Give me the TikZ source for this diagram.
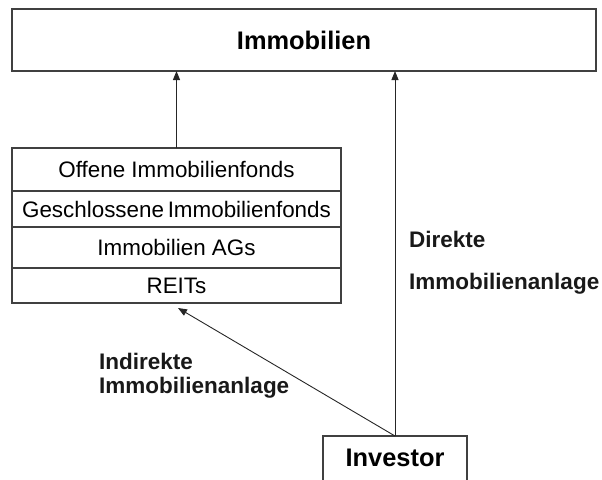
\documentclass[tikz,border=0pt]{standalone}
\usepackage{fontspec}
\setmainfont{Liberation Sans}
\usetikzlibrary{calc, positioning}
\usetikzlibrary{arrows.meta}

\tikzset{
  box/.style={draw=black!75, line width=1.2pt, fill=white, inner sep=0pt, outer sep=0pt},
  row/.style={box, minimum width=329pt, font=\fontsize{22.4}{26}\selectfont},
  arr/.style={draw=black!85, line width=0.9pt, -{Triangle[length=9pt,width=7pt]}},
  lbl/.style={anchor=north west, inner sep=0pt, align=left, text=black!90}
}

\begin{document}
\begin{tikzpicture}[x=1pt, y=-1pt]
\useasboundingbox (0,0) rectangle (602,479);

% Target of both ways
\node[box, minimum width=584pt, minimum height=62pt,
      font=\fontsize{25.4}{30}\selectfont\bfseries] (immo) at (304,40) {Immobilien};

% Stack of indirect vehicles
\node[row, minimum height=43pt] (offen) at (176.5,169.5) {Offene Immobilienfonds};
\node[row, minimum height=36pt, below=0pt of offen] (geschl) {Geschlossene\,Immobilienfonds};
\node[row, minimum height=41pt, below=0pt of geschl] (ags) {Immobilien AGs};
\node[row, minimum height=35pt, below=0pt of ags] (reits) {REITs};

% Investor, cut off at the lower edge
\node[box, anchor=north, minimum width=144pt, text height=30pt, text depth=24pt,
      font=\fontsize{25.4}{30}\selectfont\bfseries] (inv) at (395,436) {Investor};

\coordinate (tipind) at ($(reits.south)+(1.5,5)$);

% Connectors
\draw[arr] (offen.north) -- (immo.south -| offen.north);
\draw[arr] (inv.north) -- (immo.south -| inv.north);
\draw[arr] (inv.north) -- (tipind);

% Labels
\node[lbl, font=\fontsize{22.5}{24}\selectfont\bfseries] (indir) at (99,352.5)
  {Indirekte\\Immobilienanlage};
\node[lbl, font=\fontsize{22.5}{42}\selectfont\bfseries] (dir) at (409,230.5)
  {Direkte\\Immobilienanlage};
\end{tikzpicture}
\end{document}
